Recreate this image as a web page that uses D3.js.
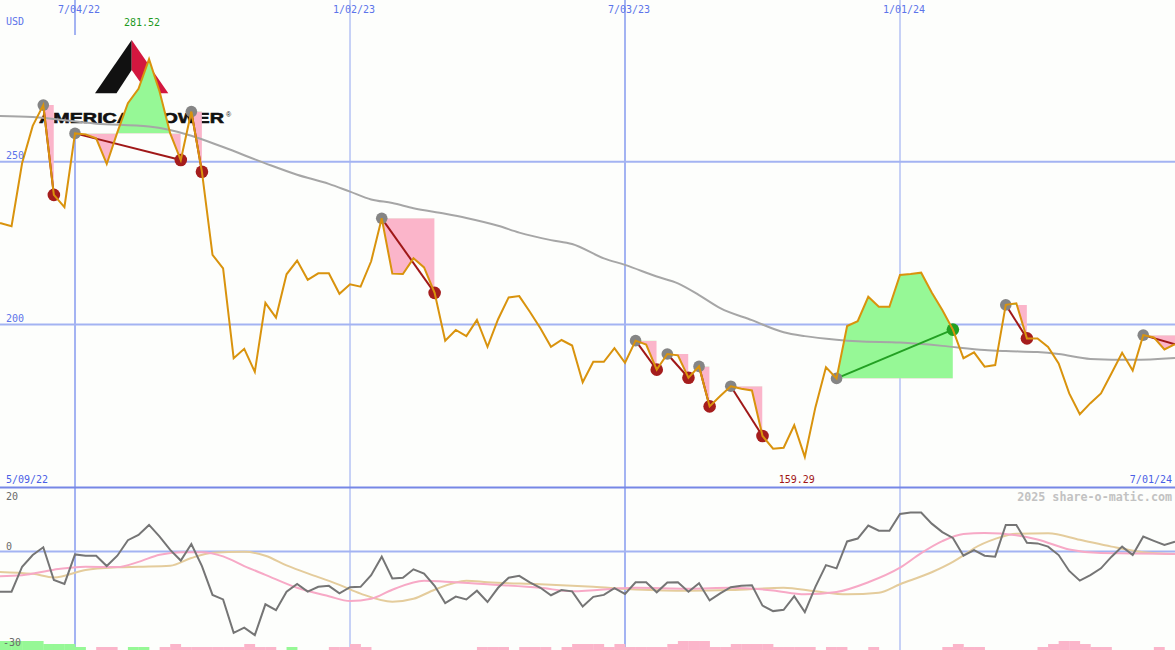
<!DOCTYPE html>
<html><head><meta charset="utf-8">
<script src="https://cdn.jsdelivr.net/npm/d3@7"></script>
<style>body{margin:0;background:#fdfefc}svg{display:block}</style>
</head><body>
<svg id="c" width="1175" height="650"></svg>
<script>
// ---------------- data ----------------
const startDate = new Date(Date.UTC(2022, 4, 9)); // 5/09/22, weekly closes
const endDate = new Date(Date.UTC(2024, 6, 1));   // 7/01/24
const price = [
 231.2,231.1,230.2,249.6,261.0,267.4,239.8,236.0,258.7,258.4,
 257.2,249.3,259.0,268.0,272.4,281.52,271.5,258.7,250.5,265.4,
 246.9,221.4,217.2,189.6,192.5,185.4,206.6,202.1,215.4,219.6,
 213.7,215.7,215.7,209.4,212.3,211.6,219.4,232.6,215.6,215.5,
 220.3,217.5,209.7,195.0,198.3,196.4,201.4,193.1,201.6,208.3,
 208.7,203.9,198.8,193.1,195.2,193.5,182.2,188.5,188.5,192.7,
 188.2,195.0,193.8,186.1,190.9,190.5,183.6,187.1,174.8,178.0,
 181.0,180.2,179.7,165.7,161.8,162.1,169.0,159.29,174.5,186.8,
 183.4,199.5,201.0,208.5,205.4,205.4,215.2,215.5,215.9,209.8,
 204.4,198.4,189.6,191.4,187.0,187.5,206.0,206.5,195.7,195.7,
 193.1,188.0,178.8,172.4,175.8,178.8,185.0,191.3,185.8,196.7,
 196.0,192.3,193.9
];
const maWeeks  = [0,4,10,15,19,22,26,29,32,34,36,38,40,43,45,48,50,53,55,58,60,63,65,67,69,72,75,77,80,82,86,90,94,96,99,101,104,108,112];
const maValues = [264.1,263.7,261.7,260.8,258.0,254.5,249.5,246.0,243.2,240.8,238.4,237.3,235.7,234.0,232.7,230.3,228.2,225.9,224.7,220.3,218.3,214.7,212.6,209.0,205.0,201.3,197.6,196.4,195.3,194.8,194.4,193.4,192.1,191.8,191.5,190.9,189.4,189.1,189.7];

const oscValues = [
 -12.4,-12.4,-12.4,-4.7,-1.1,1.3,-8.8,-10.0,-0.9,-1.3,
 -1.3,-4.5,-1.3,3.5,5.1,8.2,4.6,0.5,-2.8,2.3,
 -4.5,-13.4,-14.8,-25.1,-23.5,-25.8,-16.3,-18.1,-12.4,-10.0,
 -12.4,-10.9,-10.6,-12.9,-11.0,-10.9,-7.3,-1.6,-8.3,-8.1,
 -5.5,-6.8,-10.6,-15.9,-13.9,-14.8,-12.1,-15.6,-11.2,-8.1,
 -7.5,-9.5,-11.2,-13.5,-11.9,-12.3,-17.0,-14.0,-13.4,-11.3,
 -13.1,-9.5,-9.5,-12.6,-9.6,-9.5,-12.4,-9.8,-15.1,-12.9,
 -11.0,-10.6,-10.4,-16.7,-18.4,-18.0,-13.8,-18.7,-10.9,-4.2,
 -5.2,3.1,4.0,8.0,6.4,6.4,11.6,12.0,12.0,8.6,
 6.0,4.2,-1.3,0.4,-1.3,-1.6,8.2,8.2,2.7,2.5,
 1.5,-1.1,-6.0,-9.0,-7.3,-5.2,-1.6,1.5,-1.1,4.6,
 3.3,2.0,3.0
];
const fastWeeks  = [0,3,6,9,12,14,16,18,20,22,24,26,29,32,34,36,38,41,43,47,52,55,61,66,70,74,77,80,83,86,88,90,92,94,97,99,102,105,108,112];
const fastValues = [-7.7,-7.3,-5.6,-4.7,-4.8,-3.2,-1.0,-0.2,-0.2,-1.5,-4.5,-7.2,-11.2,-13.8,-15.3,-14.6,-11.8,-9.0,-9.3,-10.1,-11.2,-12.3,-11.2,-11.5,-11.2,-12.0,-13.2,-12.5,-9.5,-5.0,-0.5,3.2,5.4,5.7,5.0,3.7,0.6,-0.5,-0.6,-0.8];
const slowWeeks  = [0,4,6,9,12,14,17,19,21,24,26,28,31,33,35,38,40,42,45,47,52,57,61,66,70,75,78,81,84,86,89,91,92,93,95,97,100,103,106,109,112];
const slowValues = [-6.2,-6.9,-8.0,-5.7,-4.9,-4.7,-4.4,-2.0,-0.4,-0.1,-1.3,-4.3,-7.9,-10.3,-13.0,-15.5,-14.6,-11.8,-9.0,-9.5,-10.1,-10.9,-11.7,-12.1,-11.9,-11.2,-12.3,-13.2,-12.7,-10.1,-6.4,-3.2,-1.2,1.0,3.9,5.5,5.6,3.6,1.5,-0.2,-0.8];
const barLevels = [
 3,3,3,3,3, 2,2,2, 1, 0, -1,-1, 0, 1,1, 0, -1, -2, -1,-1,-1,-1,-1,-1, -2, -1,-1, 0, 1, 0,0,0,
 -1,-1, -2, -1, 0,0,0,0,0,0,0,0,0,0, -1,-1,-1, 0, -1,-1,-1, 0, -1, -2,-2,-2, -1, -2,
 -1,-1,-1,-1, -2, -3,-3,-3, -1,-1, -2,-2,-2,-2, -1,-1,-1,-1, 0, -1,-1, 0,0, -1,
 0,0,0,0,0,0, -1, -2, -1,-1, 0,0,0,0,0, -1, -2, -3,-3, -2, -1,-1, 0,0,0,0, -1, 0,0
];
// patterns: start week, end week, whether end lies inside the chart
const patStart = [5,8,19,37,61,64,67,70,80,96,109];
const patEnd   = [6,18,20,42,63,66,68,73,91,98,112];
const patOpen  = [false,false,false,false,false,false,false,false,false,false,true];

const tickDates  = ["2022-07-04","2023-01-02","2023-07-03","2024-01-01"];
const tickLabels = ["7/04/22","1/02/23","7/03/23","1/01/24"];
const priceTicks = [250, 200];
const oscTicks   = [20, 0, -30];
const highLabel = "281.52", lowLabel = "159.29";

// ---------------- scales ----------------
const W = 1175, H = 650, BG = "#fdfefc";
const svg = d3.select("#c");
const dates = price.map((_, i) => d3.utcDay.offset(startDate, 7 * i));
const wk = i => d3.utcDay.offset(startDate, 7 * i);
const x = d3.scaleUtc().domain([startDate, endDate]).range([-9.6, 1175]);
const y = d3.scaleLinear().domain([200, 250]).range([324.4, 161.7]);
const yo = d3.scaleLinear().domain([0, 20]).range([551.5, 486.7]);
const parse = d3.utcParse("%Y-%m-%d");

const GRID = "#a3b3f2", MONO = "'DejaVu Sans Mono', monospace";

svg.append("rect").attr("width", W).attr("height", H).attr("fill", BG);

// horizontal grid
svg.selectAll("line.hg").data(priceTicks).join("line")
  .attr("x1", 0).attr("x2", W).attr("y1", d => y(d)).attr("y2", d => y(d))
  .attr("stroke", GRID).attr("stroke-width", 2);
svg.append("line").attr("x1", 0).attr("x2", W).attr("y1", yo(0)).attr("y2", yo(0))
  .attr("stroke", GRID).attr("stroke-width", 2);
// vertical grid
svg.selectAll("line.vg").data(tickDates.map(parse)).join("line")
  .attr("x1", d => x(d)).attr("x2", d => x(d)).attr("y1", 0).attr("y2", H)
  .attr("stroke", GRID).attr("stroke-width", d => d.getUTCMonth() === 6 ? 2 : 1.2);
// pane separator
svg.append("line").attr("x1", 0).attr("x2", W).attr("y1", 487.5).attr("y2", 487.5)
  .attr("stroke", "#7787e6").attr("stroke-width", 2);

// logo
const logo = svg.append("g");
logo.append("rect").attr("x", 30).attr("y", 35).attr("width", 206).attr("height", 93).attr("fill", BG);
logo.append("polygon").attr("points", "131.7,40 95,93.3 116.5,93.3 131.7,70").attr("fill", "#111111");
logo.append("polygon").attr("points", "131.7,40 168.3,93.3 148,93.3 131.7,70").attr("fill", "#d3173f");
logo.append("text").attr("x", 39).attr("y", 123).attr("font-family", "'Liberation Sans', Arial, sans-serif")
  .attr("font-weight", "bold").attr("font-size", 15.5).attr("textLength", 185).attr("lengthAdjust", "spacingAndGlyphs")
  .attr("stroke", "#111111").attr("stroke-width", 0.6)
  .attr("fill", "#111111").text("AMERICAN TOWER");
logo.append("text").attr("x", 226).attr("y", 117).attr("font-family", "'Liberation Sans', Arial, sans-serif")
  .attr("font-size", 7).attr("fill", "#111111").text("®");

// pattern areas
const defs = svg.append("defs");
patStart.forEach((s, k) => {
  const e = patEnd[k];
  const lvl = y(price[s]);
  const x0 = x(dates[s]), x1 = x(dates[e]);
  defs.append("clipPath").attr("id", "up" + k).append("rect")
    .attr("x", x0).attr("y", 0).attr("width", x1 - x0).attr("height", lvl);
  defs.append("clipPath").attr("id", "dn" + k).append("rect")
    .attr("x", x0).attr("y", lvl).attr("width", x1 - x0).attr("height", 487 - lvl);
  const seg = d3.range(s, e + 1);
  const area = d3.area().x(i => x(dates[i])).y0(lvl).y1(i => y(price[i]));
  svg.append("path").datum(seg).attr("d", area).attr("fill", "#96f896").attr("clip-path", `url(#up${k})`);
  svg.append("path").datum(seg).attr("d", area).attr("fill", "#fbb5ca").attr("clip-path", `url(#dn${k})`);
});

// moving average
svg.append("path").datum(maWeeks.map((w, j) => [wk(w), maValues[j]]))
  .attr("d", d3.line().x(d => x(d[0])).y(d => y(d[1])).curve(d3.curveMonotoneX))
  .attr("fill", "none").attr("stroke", "#a6a6a6").attr("stroke-width", 2);

// connecting lines
patStart.forEach((s, k) => {
  const e = patEnd[k];
  const gain = price[e] > price[s];
  svg.append("line").attr("x1", x(dates[s])).attr("y1", y(price[s]))
    .attr("x2", x(dates[e])).attr("y2", y(price[e]))
    .attr("stroke", gain ? "#23a023" : "#a01818").attr("stroke-width", 2);
});
// dots
patStart.forEach((s, k) => {
  const e = patEnd[k];
  const gain = price[e] > price[s];
  svg.append("circle").attr("cx", x(dates[s])).attr("cy", y(price[s])).attr("r", 5.8).attr("fill", "#858585");
  if (!patOpen[k]) svg.append("circle").attr("cx", x(dates[e])).attr("cy", y(price[e])).attr("r", 6.3)
    .attr("fill", gain ? "#22a022" : "#a51d1d");
});

// price line
svg.append("path").datum(price)
  .attr("d", d3.line().x((d, i) => x(dates[i])).y(d => y(d)))
  .attr("fill", "none").attr("stroke", "#d9930d").attr("stroke-width", 2).attr("stroke-linejoin", "miter");

// lower pane bars
const wkW = x(wk(1)) - x(wk(0));
svg.selectAll("rect.bar").data(barLevels.map((v, i) => ({ v, i })).filter(d => d.v !== 0)).join("rect")
  .attr("x", d => x(dates[d.i])).attr("width", wkW + 0.3)
  .attr("y", d => H - Math.abs(d.v) * 3).attr("height", d => Math.abs(d.v) * 3)
  .attr("fill", d => d.v > 0 ? "#96f896" : "#fbb5ca");

// lower pane lines
const lineS = d3.line().x(d => x(d[0])).y(d => yo(d[1])).curve(d3.curveMonotoneX);
svg.append("path").datum(slowWeeks.map((w, j) => [wk(w), slowValues[j]])).attr("d", lineS)
  .attr("fill", "none").attr("stroke", "#e4cc9c").attr("stroke-width", 2);
svg.append("path").datum(fastWeeks.map((w, j) => [wk(w), fastValues[j]])).attr("d", lineS)
  .attr("fill", "none").attr("stroke", "#f7a9c6").attr("stroke-width", 2);
svg.append("path").datum(oscValues)
  .attr("d", d3.line().x((d, i) => x(dates[i])).y(d => yo(d)))
  .attr("fill", "none").attr("stroke", "#757575").attr("stroke-width", 2);

// texts
const txt = (t, xx, yy, col, anchor, size, weight) => svg.append("text")
  .attr("x", xx).attr("y", yy).attr("fill", col).attr("text-anchor", anchor || "start")
  .attr("font-family", MONO).attr("font-size", size || 10).attr("font-weight", weight || "normal").text(t);

tickDates.forEach((d, j) => txt(tickLabels[j], x(parse(d)) + 4, 13, "#5c74ea", "middle"));
txt("USD", 6, 25, "#5c74ea");
priceTicks.forEach(p => txt(String(p), 6, y(p) - 2.5, "#5c74ea"));
const hiI = price.indexOf(d3.max(price)), loI = price.indexOf(d3.min(price));
txt(highLabel, x(dates[hiI]) - 7, 25.5, "#1f9a1f", "middle");
txt(lowLabel, x(dates[loI]) - 8, 483, "#a01515", "middle");
txt("5/09/22", 6, 483, "#4a5fe6");
txt("7/01/24", 1172, 483, "#4a5fe6", "end");
txt("2025 share-o-matic.com", 1172, 500.5, "#c2c2c2", "end", 11.7, "bold");
txt(String(oscTicks[0]), 6, 499.5, "#6a6a6a");
txt(String(oscTicks[1]), 6, 550, "#6a6a6a");
txt(String(oscTicks[2]), 3, 646, "#6a6a6a");
</script>
</body></html>
